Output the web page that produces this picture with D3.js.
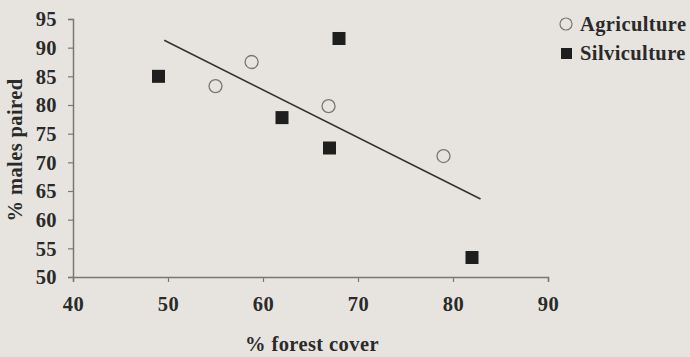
<!DOCTYPE html>
<html>
<head>
<meta charset="utf-8">
<script src="https://cdn.jsdelivr.net/npm/d3@7"></script>
<style>
  body { margin: 0; background: #e7e4df; }
  svg { display: block; }
  text { font-family: "Liberation Serif", "Times New Roman", serif; font-weight: bold; fill: #2a2a2a; letter-spacing: 0.4px; }
</style>
</head>
<body>
<script>
  // values
  var agriculture = [[55, 83.3], [58.8, 87.5], [66.9, 79.8], [79, 71.1]];
  var silviculture = [[49, 85], [62, 77.8], [67, 72.5], [68, 91.6], [82, 53.4]];
  var trend = [[49.6, 91.3], [82.9, 63.6]];
  var xTicks = [40, 50, 60, 70, 80, 90];
  var yTicks = [50, 55, 60, 65, 70, 75, 80, 85, 90, 95];

  var width = 690, height = 357;
  var fs = '20.5px';
  var svg = d3.select('body').append('svg')
    .attr('width', width)
    .attr('height', height);

  var x = d3.scaleLinear().domain([40, 90]).range([73, 548]);
  var y = d3.scaleLinear().domain([50, 95]).range([277, 19]);

  // axes
  var xAxis = svg.append('g')
    .attr('transform', 'translate(0,' + y(50) + ')')
    .call(d3.axisBottom(x).tickValues(xTicks).tickSize(5).tickPadding(12));
  var yAxis = svg.append('g')
    .attr('transform', 'translate(' + x(40) + ',0)')
    .call(d3.axisLeft(y).tickValues(yTicks).tickSize(5).tickPadding(11));

  [xAxis, yAxis].forEach(function(g){
    g.select('.domain').attr('stroke', '#777').attr('stroke-width', 1.5);
    g.selectAll('.tick line').attr('stroke', '#777').attr('stroke-width', 1.2);
    g.selectAll('.tick text')
      .style('font-family', '"Liberation Serif", serif')
      .style('font-weight', 'bold')
      .style('font-size', fs)
      .attr('fill', '#2a2a2a');
  });
  xAxis.selectAll('.tick text').attr('dy', '0.85em');
  yAxis.selectAll('.tick text').attr('dy', '0.34em');

  // axis titles
  svg.append('text')
    .attr('x', 312)
    .attr('y', 351)
    .attr('text-anchor', 'middle')
    .style('font-size', fs)
    .text('% forest cover');

  svg.append('text')
    .attr('transform', 'translate(22,150) rotate(-90)')
    .attr('text-anchor', 'middle')
    .style('font-size', fs)
    .text('% males paired');

  // regression line
  svg.append('line')
    .attr('x1', x(trend[0][0])).attr('y1', y(trend[0][1]))
    .attr('x2', x(trend[1][0])).attr('y2', y(trend[1][1]))
    .attr('stroke', '#333')
    .attr('stroke-width', 1.5);

  // points
  svg.selectAll('.agri')
    .data(agriculture)
    .enter().append('circle')
    .attr('class', 'agri')
    .attr('cx', function(d){ return x(d[0]); })
    .attr('cy', function(d){ return y(d[1]); })
    .attr('r', 6.5)
    .attr('fill', 'none')
    .attr('stroke', '#777')
    .attr('stroke-width', 1.3);

  svg.selectAll('.silvi')
    .data(silviculture)
    .enter().append('rect')
    .attr('class', 'silvi')
    .attr('x', function(d){ return x(d[0]) - 6.5; })
    .attr('y', function(d){ return y(d[1]) - 6.5; })
    .attr('width', 13)
    .attr('height', 13)
    .attr('fill', '#1e1e1e');

  // legend
  var legend = svg.append('g');
  legend.append('circle')
    .attr('cx', 566).attr('cy', 24).attr('r', 6)
    .attr('fill', 'none').attr('stroke', '#777').attr('stroke-width', 1.2);
  legend.append('rect')
    .attr('x', 561).attr('y', 48).attr('width', 11).attr('height', 11)
    .attr('fill', '#1e1e1e');
  legend.append('text')
    .attr('x', 580).attr('y', 31)
    .style('font-size', fs)
    .text('Agriculture');
  legend.append('text')
    .attr('x', 580).attr('y', 60)
    .style('font-size', fs)
    .text('Silviculture');
</script>
</body>
</html>
